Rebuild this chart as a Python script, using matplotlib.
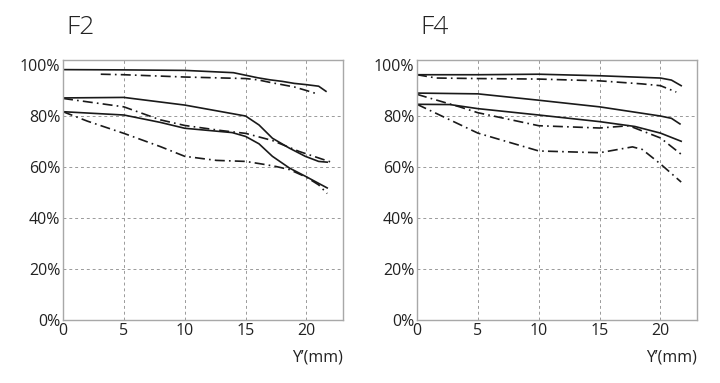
import numpy as np
import matplotlib.pyplot as plt

plt.rcParams['font.family'] = ['Open Sans', 'DejaVu Sans']

# F2 curves (Y' in mm, MTF in %)
f2_s1_x = [0, 5, 10, 14, 15, 16, 17, 18, 19, 20, 21, 21.6]
f2_s1_y = [98.2, 98.1, 97.9, 97.0, 96.0, 95.0, 94.2, 93.6, 92.8, 92.3, 91.7, 89.7]
f2_d1_x = [3.1, 5, 10, 15, 16, 17, 18, 19, 20, 20.8]
f2_d1_y = [96.4, 96.2, 95.3, 94.7, 94.2, 93.2, 92.3, 91.4, 90.0, 88.8]
f2_s2_x = [0, 5, 10, 15, 16.1, 17.2, 18.6, 19.9, 21, 21.7]
f2_s2_y = [87.1, 87.3, 84.3, 80.0, 76.5, 71.3, 67.4, 64.2, 62.2, 61.9]
f2_d2_x = [0, 5, 8, 10, 13, 15, 17.2, 19.4, 22.1]
f2_d2_y = [86.9, 83.6, 78.5, 76.3, 74.3, 73.2, 70.4, 66.1, 61.8]
f2_s3_x = [0, 5, 8, 10, 13.9, 15, 16.1, 17.2, 18.6, 19.9, 21.7]
f2_s3_y = [81.7, 80.4, 77.5, 75.2, 73.5, 72.0, 69.1, 64.2, 59.6, 56.4, 51.8]
f2_d3_x = [0, 2, 5, 8, 10, 12.6, 15, 16.7, 17.5, 18.6, 20, 21, 21.7]
f2_d3_y = [81.7, 78.0, 73.2, 68.0, 64.2, 62.6, 62.2, 60.9, 60.2, 59.0, 56.0, 53.0, 49.6]

# F4 curves
f4_s1_x = [0, 5, 10, 15, 20, 20.9, 21.7]
f4_s1_y = [96.2, 96.2, 96.4, 95.8, 94.9, 94.1, 91.9]
f4_d1_x = [0, 1.6, 5, 10, 15, 18.5, 20, 21.3]
f4_d1_y = [96.2, 94.9, 94.7, 94.5, 93.8, 92.6, 91.9, 89.4]
f4_s2_x = [0, 5, 10, 15, 20, 20.9, 21.6]
f4_s2_y = [89.0, 88.7, 86.2, 83.6, 80.0, 79.1, 76.9]
f4_d2_x = [0, 3.5, 5, 10, 15, 17.4, 20, 21.7]
f4_d2_y = [88.5, 83.6, 81.3, 76.2, 75.3, 76.2, 71.4, 65.0]
f4_s3_x = [0, 2.7, 5, 10, 15, 17.9, 20, 21.7]
f4_s3_y = [84.6, 84.5, 82.9, 80.4, 77.8, 75.9, 73.3, 70.1]
f4_d3_x = [0, 5, 10, 15, 17.7, 18.5, 20, 21.7]
f4_d3_y = [84.6, 73.3, 66.3, 65.6, 67.9, 66.9, 61.2, 54.1]

titles = ["F2", "F4"]
xticks = [0, 5, 10, 15, 20]
yticks = [0, 20, 40, 60, 80, 100]
ytick_labels = ["0%", "20%", "40%", "60%", "80%", "100%"]

panels = [
    [(f2_s1_x, f2_s1_y, "s"), (f2_d1_x, f2_d1_y, "d"),
     (f2_s2_x, f2_s2_y, "s"), (f2_d2_x, f2_d2_y, "d"),
     (f2_s3_x, f2_s3_y, "s"), (f2_d3_x, f2_d3_y, "d")],
    [(f4_s1_x, f4_s1_y, "s"), (f4_d1_x, f4_d1_y, "d"),
     (f4_s2_x, f4_s2_y, "s"), (f4_d2_x, f4_d2_y, "d"),
     (f4_s3_x, f4_s3_y, "s"), (f4_d3_x, f4_d3_y, "d")],
]

fig = plt.figure(figsize=(7.2, 3.83), dpi=100)
lefts = [63 / 720, 417 / 720]
txt = "#222222"

for i in range(2):
    ax = fig.add_axes([lefts[i], 0.1645, 280 / 720, 0.679])
    ax.set_xlim(0, 23)
    ax.set_ylim(0, 102)
    for x, y, kind in panels[i]:
        if kind == "s":
            ax.plot(x, y, color="#1a1a1a", lw=1.2, solid_joinstyle="round")
        else:
            ax.plot(x, y, color="#1a1a1a", lw=1.2, linestyle=(0, (6, 2.5, 1, 2.5)))
    # dashed grid
    for gx in xticks[1:]:
        ax.axvline(gx, color="#9a9a9a", lw=0.7, linestyle=(0, (3, 3)), zorder=0)
    for gy in yticks[1:-1]:
        ax.axhline(gy, color="#9a9a9a", lw=0.7, linestyle=(0, (3, 3)), zorder=0)
    ax.set_xticks(xticks)
    ax.set_yticks(yticks)
    ax.set_yticklabels(ytick_labels)
    ax.tick_params(length=0, labelsize=11.5, colors=txt, pad=2)
    for s in ax.spines.values():
        s.set_color("#a8a8a8")
        s.set_linewidth(1.0)
    ax.text(1.0, -0.145, "Y\u2019(mm)", transform=ax.transAxes, ha="right", va="center",
            fontsize=11.5, color=txt)
    fig.text(lefts[i] + 0.005, 0.927, titles[i], ha="left", va="center", fontsize=19,
             color=txt, fontweight="light")

fig.savefig("out.png", dpi=100, facecolor="white")
